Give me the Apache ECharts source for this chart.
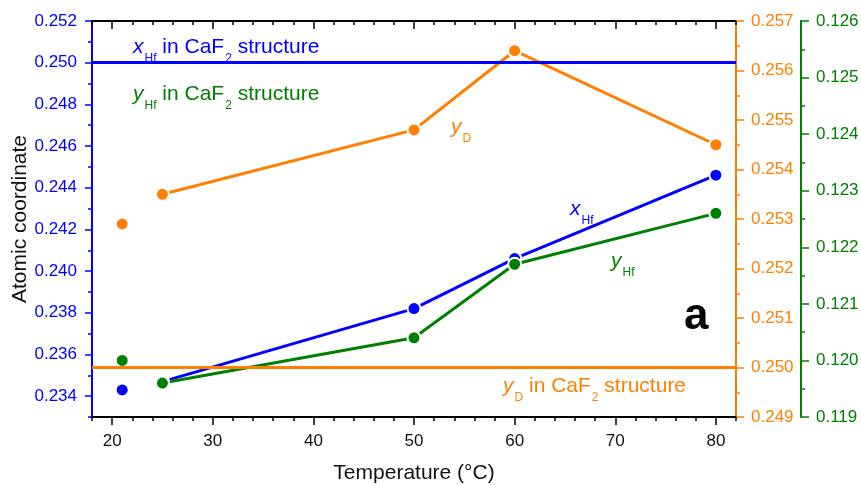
<!DOCTYPE html>
<html>
<head>
<meta charset="utf-8">
<script src="https://cdn.jsdelivr.net/npm/echarts@6/dist/echarts.min.js"></script>
<style>
  html, body { margin: 0; background: #fff; }
  #chart { width: 861px; height: 485px; }
</style>
</head>
<body>
<div id="chart"></div>
<script>
// measured points (temperature in °C)
var temps = [21, 25, 50, 60, 80];
var xHf = [0.2343, 0.2347, 0.2382, 0.2406, 0.2446];   // left axis
var yD = [0.2529, 0.2535, 0.2548, 0.2564, 0.2545];    // orange axis
var yHf = [0.1200, 0.1196, 0.1204, 0.1217, 0.1226];   // green axis

// values for the ideal CaF2 structure
var xHfCaF2 = 0.250;
var yHfCaF2 = 0.125;
var yDCaF2 = 0.250;

// tick labels
var tempTicks = [20, 30, 40, 50, 60, 70, 80];
var leftTicks = [0.234, 0.236, 0.238, 0.240, 0.242, 0.244, 0.246, 0.248, 0.250, 0.252];
var orangeTicks = [0.249, 0.250, 0.251, 0.252, 0.253, 0.254, 0.255, 0.256, 0.257];
var greenTicks = [0.119, 0.120, 0.121, 0.122, 0.123, 0.124, 0.125, 0.126];

var BLUE = '#0000ff', ORANGE = '#ff8000', GREEN = '#008000';
var FONT = 'Arial, "Liberation Sans", sans-serif';

function midpoints(arr) {
  var out = [];
  for (var i = 1; i < arr.length; i++) out.push(+((arr[i - 1] + arr[i]) / 2).toFixed(4));
  return out;
}
var minorX = [];
for (var v = 18; v <= 82; v += 2) { if (v % 10) minorX.push(v); }
var leftMinor = [0.233].concat(midpoints(leftTicks));

function pairs(vals) {
  return temps.slice(1).map(function (t, i) { return [t, vals[i + 1]]; });
}
function first(vals) { return [[temps[0], vals[0]]]; }

function yAx(pos, offset, min, max, color, ticks, len, major, name) {
  var ax = {
    type: 'value', position: pos, offset: offset, min: min, max: max,
    splitLine: { show: false },
    axisLine: { show: major, lineStyle: { color: color, width: 2 } },
    axisTick: { customValues: ticks, length: len, lineStyle: { color: color, width: 1.5 } },
    axisLabel: {
      show: major, customValues: ticks, margin: 15, color: color,
      fontSize: 17, fontFamily: FONT,
      formatter: function (v) { return v.toFixed(3); }
    }
  };
  if (name) {
    ax.name = name;
    ax.nameLocation = 'middle';
    ax.nameGap = 61;
    ax.nameMoveOverlap = false;
    ax.nameTextStyle = { fontSize: 21, color: '#111', fontFamily: FONT };
  }
  return ax;
}

function xAx(pos, ticks, len, inside, major, name) {
  var ax = {
    type: 'value', position: pos, min: 18, max: 82,
    splitLine: { show: false },
    axisLine: { show: major, onZero: false, lineStyle: { color: '#000', width: 2 } },
    axisTick: { customValues: ticks, length: len, inside: inside, lineStyle: { color: '#000', width: 1.5 } },
    axisLabel: {
      show: major && !inside, customValues: ticks, margin: 16,
      color: '#111', fontSize: 17, fontFamily: FONT
    }
  };
  if (name) {
    ax.name = name;
    ax.nameLocation = 'middle';
    ax.nameGap = 46;
    ax.nameMoveOverlap = false;
    ax.nameTextStyle = { fontSize: 21, color: '#111', fontFamily: FONT };
  }
  return ax;
}

var dot = function (color) {
  return { color: color, borderColor: '#fff', borderWidth: 2, opacity: 1 };
};

function refLine(value, color) {
  return {
    silent: true, symbol: 'none', label: { show: false },
    lineStyle: { color: color, width: 3, type: 'solid' },
    data: [{ yAxis: value }]
  };
}

// subscripts sit about 8 px below the main baseline
var rich = {
  m: { fontSize: 21 },
  i: { fontSize: 21, fontStyle: 'italic' },
  a: { fontSize: 12, padding: [23, 0, 0, 1] },
  b: { fontSize: 12, padding: [23, 0, 0, 1] }
};
function label(left, top, text, color) {
  return {
    type: 'text', left: left, top: top, silent: true,
    style: { text: text, fill: color, fontFamily: FONT, fontSize: 21, rich: rich }
  };
}

var chart = echarts.init(document.getElementById('chart'));
chart.setOption({
  animation: false,
  backgroundColor: '#fff',
  grid: { left: 92, right: 125, top: 21, bottom: 68, containLabel: false, outerBoundsMode: 'none' },
  xAxis: [
    xAx('bottom', tempTicks, 8, false, true, 'Temperature (°C)'),
    xAx('bottom', minorX, 4, false, false),
    xAx('top', tempTicks, 8, true, true),
    xAx('top', minorX, 4, true, false)
  ],
  yAxis: [
    yAx('left', 0, 0.233, 0.252, BLUE, leftTicks, 7, true, 'Atomic coordinate'),
    yAx('left', 0, 0.233, 0.252, BLUE, leftMinor, 4, false),
    yAx('right', 0, 0.249, 0.257, ORANGE, orangeTicks, 8, true),
    yAx('right', 0, 0.249, 0.257, ORANGE, midpoints(orangeTicks), 4, false),
    yAx('right', 65, 0.119, 0.126, GREEN, greenTicks, 8, true),
    yAx('right', 65, 0.119, 0.126, GREEN, midpoints(greenTicks), 4, false)
  ],
  series: [
    {
      name: 'yD', type: 'line', yAxisIndex: 2, data: pairs(yD),
      symbol: 'circle', symbolSize: 13, showAllSymbol: true,
      lineStyle: { color: ORANGE, width: 3 }, itemStyle: dot(ORANGE),
      markLine: refLine(yDCaF2, ORANGE)
    },
    { name: 'yD 21', type: 'scatter', yAxisIndex: 2, data: first(yD), symbolSize: 13, itemStyle: dot(ORANGE) },
    {
      name: 'xHf', type: 'line', yAxisIndex: 0, data: pairs(xHf),
      symbol: 'circle', symbolSize: 13, showAllSymbol: true,
      lineStyle: { color: BLUE, width: 3 }, itemStyle: dot(BLUE),
      markLine: refLine(xHfCaF2, BLUE)
    },
    { name: 'xHf 21', type: 'scatter', yAxisIndex: 0, data: first(xHf), symbolSize: 13, itemStyle: dot(BLUE) },
    {
      name: 'yHf', type: 'line', yAxisIndex: 4, data: pairs(yHf),
      symbol: 'circle', symbolSize: 13, showAllSymbol: true,
      lineStyle: { color: GREEN, width: 3 }, itemStyle: dot(GREEN),
      markLine: refLine(yHfCaF2, GREEN)
    },
    { name: 'yHf 21', type: 'scatter', yAxisIndex: 4, data: first(yHf), symbolSize: 13, itemStyle: dot(GREEN) }
  ],
  graphic: [
    label(133, 37, '{i|x}{a|Hf}{m| in CaF}{b|2}{m| structure}', BLUE),
    label(133, 84, '{i|y}{a|Hf}{m| in CaF}{b|2}{m| structure}', GREEN),
    label(503, 376, '{i|y}{a|D}{m| in CaF}{b|2}{m| structure}', ORANGE),
    label(451, 117, '{i|y}{a|D}', ORANGE),
    label(570, 199, '{i|x}{a|Hf}', BLUE),
    label(611, 251, '{i|y}{a|Hf}', GREEN),
    {
      type: 'text', left: 684, top: 295, silent: true,
      style: { text: 'a', fill: '#000', fontFamily: FONT, fontSize: 44, fontWeight: 'bold' }
    }
  ]
});
</script>
</body>
</html>
